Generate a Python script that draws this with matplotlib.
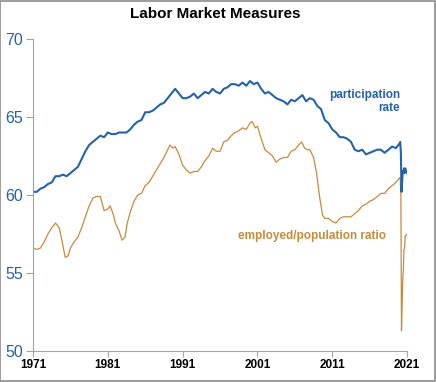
import numpy as np
import matplotlib.pyplot as plt
from matplotlib.patches import Rectangle

plt.rcParams['font.family'] = ['Liberation Sans', 'DejaVu Sans']

# labor force participation rate (year, %)
part_years = [1971.0, 1971.5, 1972.0, 1972.5, 1973.0, 1973.5, 1974.0, 1974.5, 1975.0, 1975.5,
              1976.0, 1976.5, 1977.0, 1977.5, 1978.0, 1978.5, 1979.0, 1979.5, 1980.0, 1980.5,
              1981.0, 1981.5, 1982.0, 1982.5, 1983.0, 1983.5, 1984.0, 1984.5, 1985.0, 1985.5,
              1986.0, 1986.5, 1987.0, 1987.5, 1988.0, 1988.5, 1989.0, 1989.5, 1990.0, 1990.5,
              1991.0, 1991.5, 1992.0, 1992.5, 1993.0, 1993.5, 1994.0, 1994.5, 1995.0, 1995.5,
              1996.0, 1996.5, 1997.0, 1997.5, 1998.0, 1998.5, 1999.0, 1999.5, 2000.0, 2000.5,
              2001.0, 2001.5, 2002.0, 2002.5, 2003.0, 2003.5, 2004.0, 2004.5, 2005.0, 2005.5,
              2006.0, 2006.5, 2007.0, 2007.5, 2008.0, 2008.5, 2009.0, 2009.5, 2010.0, 2010.5,
              2011.0, 2011.5, 2012.0, 2012.5, 2013.0, 2013.5, 2014.0, 2014.5, 2015.0, 2015.5,
              2016.0, 2016.5, 2017.0, 2017.5, 2018.0, 2018.5, 2019.0, 2019.5, 2020.0, 2020.08,
              2020.17, 2020.25, 2020.33, 2020.42, 2020.5, 2020.58, 2020.67, 2020.75, 2020.83,
              2020.92, 2021.0]
part_rate = [60.2, 60.2, 60.4, 60.5, 60.7, 60.8, 61.2, 61.2, 61.3, 61.2,
             61.4, 61.6, 61.8, 62.3, 62.8, 63.2, 63.4, 63.6, 63.8, 63.7,
             64.0, 63.9, 63.9, 64.0, 64.0, 64.0, 64.2, 64.5, 64.7, 64.8,
             65.3, 65.3, 65.4, 65.6, 65.8, 65.9, 66.2, 66.5, 66.8, 66.5,
             66.2, 66.2, 66.3, 66.5, 66.2, 66.4, 66.6, 66.5, 66.8, 66.6,
             66.5, 66.8, 66.9, 67.1, 67.1, 67.0, 67.2, 67.0, 67.3, 67.1,
             67.2, 66.8, 66.5, 66.6, 66.4, 66.2, 66.1, 66.0, 65.8, 66.1,
             66.0, 66.2, 66.4, 66.0, 66.2, 66.1, 65.7, 65.5, 64.8, 64.6,
             64.2, 64.0, 63.7, 63.7, 63.6, 63.4, 62.9, 62.8, 62.9, 62.6,
             62.7, 62.8, 62.9, 62.9, 62.7, 62.9, 63.1, 63.0, 63.3, 63.4,
             62.7, 60.2, 60.8, 61.5, 61.4, 61.7, 61.4, 61.7, 61.5,
             61.5, 61.4]

# employment/population ratio (year, %)
emp_years = [1971.0, 1971.5, 1972.0, 1972.5, 1973.0, 1973.5, 1974.0, 1974.5, 1974.9, 1975.3,
             1975.7, 1976.0, 1976.5, 1977.0, 1977.5, 1978.0, 1978.5, 1979.0, 1979.5, 1980.0,
             1980.5, 1981.0, 1981.3, 1981.7, 1982.0, 1982.5, 1982.9, 1983.3, 1983.6, 1984.0,
             1984.5, 1985.0, 1985.5, 1986.0, 1986.5, 1987.0, 1987.5, 1988.0, 1988.5, 1989.0,
             1989.3, 1989.7, 1990.0, 1990.5, 1991.0, 1991.5, 1992.0, 1992.5, 1993.0, 1993.5,
             1994.0, 1994.5, 1995.0, 1995.5, 1996.0, 1996.5, 1997.0, 1997.5, 1998.0, 1998.5,
             1999.0, 1999.5, 2000.0, 2000.3, 2000.7, 2001.0, 2001.5, 2002.0, 2002.5, 2003.0,
             2003.5, 2004.0, 2004.5, 2005.0, 2005.5, 2006.0, 2006.5, 2006.9, 2007.3, 2007.7,
             2008.0, 2008.5, 2008.9, 2009.3, 2009.7, 2010.0, 2010.5, 2011.0, 2011.5, 2012.0,
             2012.5, 2013.0, 2013.5, 2014.0, 2014.5, 2015.0, 2015.5, 2016.0, 2016.5, 2017.0,
             2017.5, 2018.0, 2018.5, 2019.0, 2019.5, 2020.0, 2020.08, 2020.17, 2020.25, 2020.33,
             2020.42, 2020.5, 2020.58, 2020.67, 2020.75, 2020.83, 2020.92, 2021.0]
emp_ratio = [56.6, 56.5, 56.6, 57.0, 57.5, 57.9, 58.2, 57.9, 57.0, 56.0,
             56.1, 56.6, 57.0, 57.3, 57.9, 58.6, 59.3, 59.8, 59.9, 59.9,
             59.0, 59.1, 59.3, 58.8, 58.2, 57.7, 57.1, 57.3, 58.2, 58.9,
             59.6, 60.0, 60.1, 60.6, 60.8, 61.2, 61.6, 62.0, 62.4, 62.9,
             63.2, 63.0, 63.1, 62.6, 61.9, 61.6, 61.4, 61.5, 61.5, 61.8,
             62.2, 62.5, 63.0, 62.8, 62.8, 63.4, 63.5, 63.8, 64.0, 64.1,
             64.3, 64.2, 64.6, 64.7, 64.3, 64.4, 63.6, 62.9, 62.7, 62.5,
             62.1, 62.3, 62.4, 62.4, 62.8, 62.9, 63.2, 63.4, 63.0, 62.9,
             62.9, 62.4, 61.4, 59.9, 58.7, 58.5, 58.5, 58.3, 58.2, 58.5,
             58.6, 58.6, 58.6, 58.8, 59.0, 59.3, 59.4, 59.6, 59.7, 59.9,
             60.1, 60.1, 60.4, 60.6, 60.8, 61.1, 61.1, 60.0, 51.3, 52.8,
             54.6, 55.2, 56.5, 56.6, 57.4, 57.4, 57.4, 57.5]

x_ticks = [1971, 1981, 1991, 2001, 2011, 2021]
y_ticks = [50, 55, 60, 65, 70]

blue = '#2463a8'
orange = '#c88b3a'

fig = plt.figure(figsize=(4.36, 3.82), dpi=100)
ax = fig.add_axes([0.0757, 0.0812, 0.858, 0.817])

ax.plot(emp_years, emp_ratio, color=orange, lw=0.9)
ax.plot(part_years, part_rate, color=blue, lw=1.5)

ax.set_xlim(1971, 2021)
ax.set_ylim(50, 70)
ax.set_xticks(x_ticks)
ax.set_yticks(y_ticks)
ax.set_xticklabels([str(t) for t in x_ticks], fontsize=8.5, fontweight='bold')
ax.set_yticklabels([str(t) for t in y_ticks], fontsize=11.5, color=blue)

for s in ['top', 'right']:
    ax.spines[s].set_visible(False)
ax.spines['left'].set_color('#86a6d2')
ax.spines['bottom'].set_color('#a6a6a6')
ax.tick_params(axis='y', length=5, color='#86a6d2', pad=2)
ax.tick_params(axis='x', length=4, color='#a6a6a6', pad=2)

ax.text(2020.1, 66.0, 'participation\nrate', color=blue, fontsize=8.5,
        fontweight='bold', ha='right', va='center', linespacing=1.15)
ax.text(2018.2, 57.4, 'employed/population ratio', color=orange, fontsize=8.5,
        fontweight='bold', ha='right', va='center')

fig.text(0.493, 0.963, 'Labor Market Measures', fontsize=11, fontweight='bold',
         ha='center', va='center')

# grey frame round the whole chart
fig.patches.append(Rectangle((0.001, 0.003), 0.997, 0.995, transform=fig.transFigure,
                             fill=False, edgecolor='#8c8c8c', lw=1.2))

fig.savefig('out.png', dpi=100)
